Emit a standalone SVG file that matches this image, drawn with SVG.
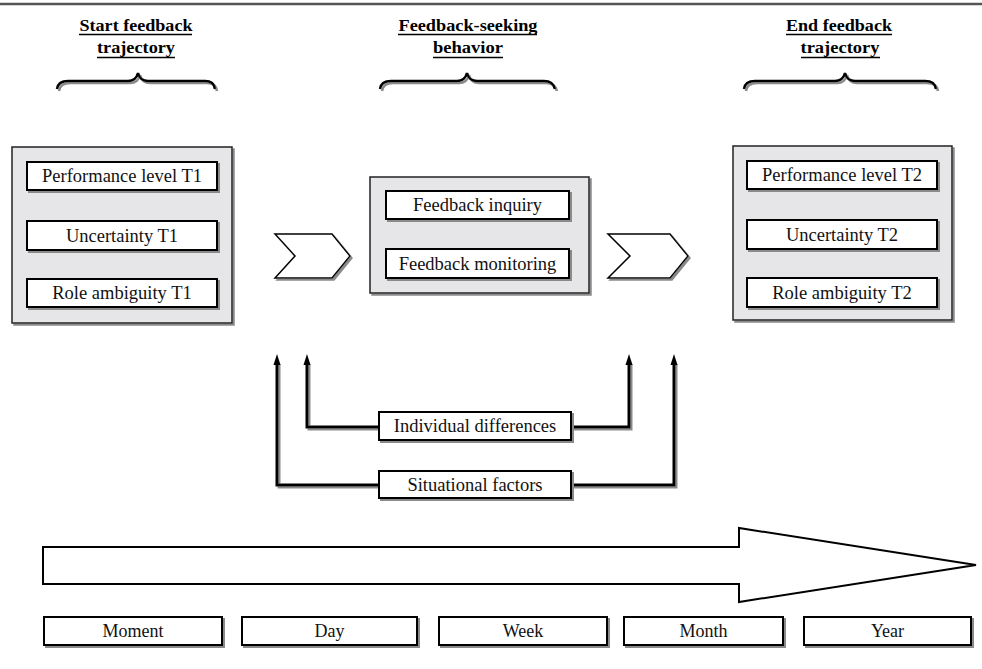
<svg xmlns="http://www.w3.org/2000/svg" width="982" height="669" viewBox="0 0 982 669">
<defs>
<filter id="sh" x="-10%" y="-10%" width="130%" height="140%">
<feDropShadow dx="2" dy="2" stdDeviation="0.6" flood-color="#8a8a8a" flood-opacity="1"/>
</filter>
</defs>
<style>
text{font-family:'Liberation Serif','Times New Roman',Times,serif}
.hdr{font-weight:bold;font-size:17.5px;text-anchor:middle;fill:#000}
.ul{stroke:#000;stroke-width:1.5}
.brace{fill:none;stroke:#000;stroke-width:2.5;filter:url(#sh)}
.outer{fill:#e6e6e8;stroke:#222;stroke-width:1.5;filter:url(#sh)}
.inner{fill:#fff;stroke:#000;stroke-width:2;filter:url(#sh)}
.lbl{font-size:18.5px;text-anchor:middle;fill:#111}
.tl{font-size:18px;text-anchor:middle;fill:#111}
.chev{fill:#fff;stroke:#000;stroke-width:1.5;filter:url(#sh)}
.conn{fill:none;stroke:#000;stroke-width:3;filter:url(#sh)}
.head{fill:#000}
.big{fill:#fff;stroke:#000;stroke-width:2}
</style>

<line x1="0" y1="4" x2="982" y2="4" stroke="#555" stroke-width="2.5"/>

<g id="header-start">
<text class="hdr" x="136" y="31" textLength="113" lengthAdjust="spacingAndGlyphs">Start feedback</text>
<line class="ul" x1="79" y1="34.5" x2="192" y2="34.5"/>
<text class="hdr" x="136" y="53" textLength="78" lengthAdjust="spacingAndGlyphs">trajectory</text>
<line class="ul" x1="97" y1="57.5" x2="175" y2="57.5"/>
<path class="brace" d="M57,89 Q58,81 68,81 L128,81 Q136,81 138,73 Q140,81 148,81 L205,81 Q214,81 215,89"/>
</g>

<g id="header-seeking">
<text class="hdr" x="468" y="31" textLength="139" lengthAdjust="spacingAndGlyphs">Feedback-seeking</text>
<line class="ul" x1="398" y1="34.5" x2="537" y2="34.5"/>
<text class="hdr" x="468" y="53" textLength="70" lengthAdjust="spacingAndGlyphs">behavior</text>
<line class="ul" x1="433" y1="57.5" x2="503" y2="57.5"/>
<path class="brace" d="M380,89 Q381,81 391,81 L457,81 Q465,81 467,73 Q469,81 477,81 L544,81 Q553,81 555,89"/>
</g>

<g id="header-end">
<text class="hdr" x="839" y="31" textLength="106" lengthAdjust="spacingAndGlyphs">End feedback</text>
<line class="ul" x1="786" y1="34.5" x2="892" y2="34.5"/>
<text class="hdr" x="840" y="53" textLength="79" lengthAdjust="spacingAndGlyphs">trajectory</text>
<line class="ul" x1="801" y1="57.5" x2="880" y2="57.5"/>
<path class="brace" d="M744,89 Q745,81 755,81 L835,81 Q843,81 845,73 Q847,81 855,81 L925,81 Q935,81 936,89"/>
</g>

<g id="start-box">
<rect class="outer" x="12" y="147" width="220" height="176"/>
<rect class="inner" x="27" y="162" width="190" height="28"/>
<text class="lbl" x="122" y="182">Performance level T1</text>
<rect class="inner" x="27" y="221" width="190" height="29"/>
<text class="lbl" x="122" y="242">Uncertainty T1</text>
<rect class="inner" x="27" y="279" width="190" height="28"/>
<text class="lbl" x="122" y="299">Role ambiguity T1</text>
</g>

<g id="seeking-box">
<rect class="outer" x="370" y="177" width="219" height="116"/>
<rect class="inner" x="386" y="191" width="183" height="28"/>
<text class="lbl" x="477.5" y="211">Feedback inquiry</text>
<rect class="inner" x="386" y="249" width="183" height="29"/>
<text class="lbl" x="477.5" y="270">Feedback monitoring</text>
</g>

<g id="end-box">
<rect class="outer" x="733" y="146" width="219" height="174"/>
<rect class="inner" x="747" y="161" width="190" height="28"/>
<text class="lbl" x="842" y="181">Performance level T2</text>
<rect class="inner" x="747" y="220" width="190" height="29"/>
<text class="lbl" x="842" y="241">Uncertainty T2</text>
<rect class="inner" x="747" y="278" width="190" height="29"/>
<text class="lbl" x="842" y="299">Role ambiguity T2</text>
</g>

<g id="chevron-1">
<polygon class="chev" points="275,234 332,234 350,256 332,278 275,278 295,256"/>
</g>
<g id="chevron-2">
<polygon class="chev" points="608,234 670,234 688,256 670,278 608,278 630,256"/>
</g>

<g id="connectors">
<polyline class="conn" points="379,427 307,427 307,362"/>
<polyline class="conn" points="571,427 629,427 629,362"/>
<polyline class="conn" points="379,485 277,485 277,362"/>
<polyline class="conn" points="571,485 674,485 674,362"/>
<polygon class="head" points="307,354 303.5,365 310.5,365"/>
<polygon class="head" points="629,354 625.5,365 632.5,365"/>
<polygon class="head" points="277,354 273.5,365 280.5,365"/>
<polygon class="head" points="674,354 670.5,365 677.5,365"/>
</g>

<g id="individual-differences">
<rect class="inner" x="379" y="412" width="192" height="28"/>
<text class="lbl" x="475" y="432">Individual differences</text>
</g>
<g id="situational-factors">
<rect class="inner" x="379" y="471" width="192" height="27"/>
<text class="lbl" x="475" y="491">Situational factors</text>
</g>

<g id="timeline-arrow">
<polygon class="big" points="43,547 739,547 739,528 976,565 739,602 739,584 43,584"/>
</g>

<g id="moment"><rect class="inner" x="44" y="617" width="178" height="28"/><text class="tl" x="133" y="637">Moment</text></g>
<g id="day"><rect class="inner" x="242" y="617" width="175" height="28"/><text class="tl" x="329.5" y="637">Day</text></g>
<g id="week"><rect class="inner" x="439" y="617" width="168" height="28"/><text class="tl" x="523" y="637">Week</text></g>
<g id="month"><rect class="inner" x="624" y="617" width="159" height="28"/><text class="tl" x="703.5" y="637">Month</text></g>
<g id="year"><rect class="inner" x="804" y="617" width="167" height="28"/><text class="tl" x="887.5" y="637">Year</text></g>
</svg>
